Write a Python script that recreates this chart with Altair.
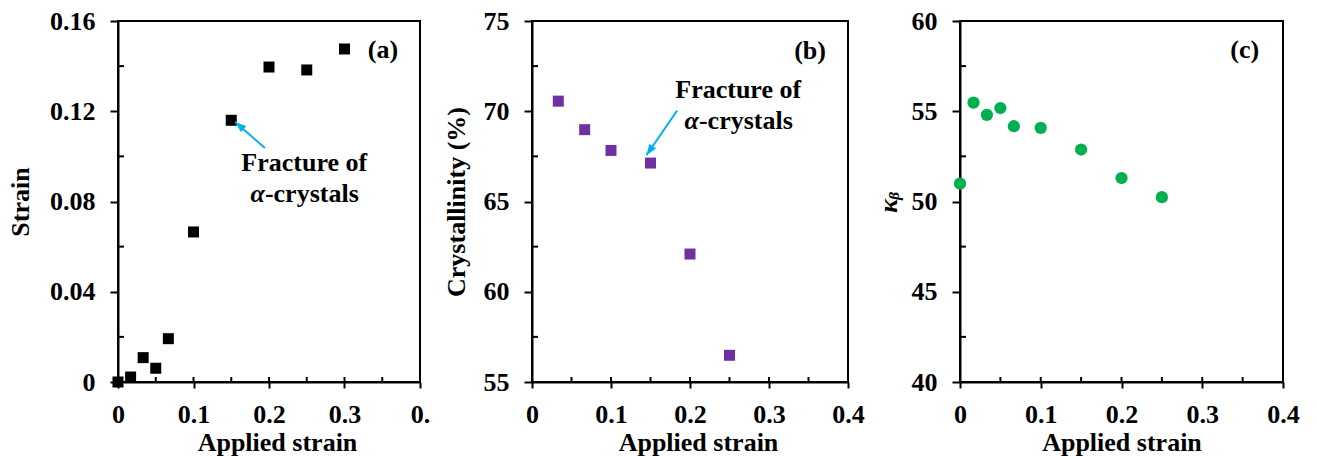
import altair as alt
import pandas as pd

FONT = "Liberation Serif"
FS = 26

# ---------------- data ----------------
a_x = [0, 0.0167, 0.0333, 0.05, 0.0667, 0.1, 0.15, 0.2, 0.25, 0.3]
a_y = [0.0, 0.0022, 0.0108, 0.0061, 0.0192, 0.0665, 0.116, 0.1396, 0.1383, 0.1476]

b_x = [0.0333, 0.0667, 0.1, 0.15, 0.2, 0.25]
b_y = [70.56, 68.98, 67.83, 67.13, 62.09, 56.48]

c_x = [0, 0.0167, 0.0333, 0.05, 0.0667, 0.1, 0.15, 0.2, 0.25]
c_y = [50.99, 55.48, 54.80, 55.18, 54.17, 54.08, 52.88, 51.30, 50.24]

x_ticks = [0, 0.1, 0.2, 0.3, 0.4]
x_minor = [0.05, 0.1, 0.15, 0.2, 0.25, 0.3, 0.35]

a_yticks = [0, 0.04, 0.08, 0.12, 0.16]
a_yminor = [0.02, 0.06, 0.10, 0.14]
b_yticks = [55, 60, 65, 70, 75]
b_yminor = [57.5, 62.5, 67.5, 72.5]
c_yticks = [40, 45, 50, 55, 60]
c_yminor = [42.5, 47.5, 52.5, 57.5]

# annotations (data coordinates)
a_label = {"x": 0.351, "y": 0.147, "text": "(a)"}
b_label = {"x": 0.352, "y": 73.33, "text": "(b)"}
c_label = {"x": 0.3525, "y": 58.38, "text": "(c)"}

a_note = {"line1": (0.2467, 0.0971), "line2": (0.1946, 0.0833),
          "tail": (0.1946, 0.1037), "tip": (0.1552, 0.1152), "angle": 310}
b_note = {"line1": (0.261, 71.2), "line2": (0.2113, 69.44),
          "tail": (0.1838, 70.04), "tip": (0.1449, 67.56), "angle": 214.5}

ARROW = "#00B0F0"
HEAD = "M0,0 L0.75,2 L-0.75,2 Z"
H = 361


def panel(xs, ys, color, shape, size, ydom, yticks, yminor, ytitle, ytp,
          width, label, note=None, xlabelexpr=None, xtitle_shift=0,
          ytitle_style="normal"):
    xkw = dict(values=x_ticks, format="~g", title="Applied strain",
               tickSize=6, labelPadding=13, titlePadding=2,
               labelFlush=False, titleX=width / 2 + xtitle_shift)
    if xlabelexpr:
        xkw["labelExpr"] = xlabelexpr
    xscale = alt.Scale(domain=[0, 0.4], nice=False, zero=False)
    yscale = alt.Scale(domain=ydom, nice=False, zero=False)
    X = alt.X("x:Q", scale=xscale, title="Applied strain",
              axis=alt.Axis(**xkw))
    Y = alt.Y("y:Q", scale=yscale, title=ytitle,
              axis=alt.Axis(values=yticks, format="~g", title=ytitle,
                            tickSize=8, labelPadding=15, titlePadding=ytp,
                            labelFlush=False, titleFontStyle=ytitle_style))
    Xn = alt.X("x:Q", scale=xscale, title="Applied strain")
    Yn = alt.Y("y:Q", scale=yscale, title=ytitle)

    pts = alt.Chart(pd.DataFrame({"x": xs, "y": ys})).mark_point(
        shape=shape, filled=True, size=size, color=color, opacity=1,
        strokeWidth=0).encode(x=X, y=Y)

    xm = alt.Chart(pd.DataFrame({"x": x_minor})).mark_rule(
        color="black", strokeWidth=2).encode(
        x=Xn, y=alt.value(H), y2=alt.value(H - 5))
    ym = alt.Chart(pd.DataFrame({"y": yminor})).mark_rule(
        color="black", strokeWidth=2).encode(
        y=Yn, x=alt.value(0), x2=alt.value(6))

    lab = alt.Chart(pd.DataFrame([label])).mark_text(
        font=FONT, fontSize=FS, fontWeight="bold", color="black",
        align="center", baseline="middle").encode(x=Xn, y=Yn, text="text:N")

    layers = [pts, xm, ym, lab]
    if note is not None:
        l1 = pd.DataFrame({"x": [note["line1"][0]], "y": [note["line1"][1]],
                           "text": ["Fracture of"]})
        l2a = pd.DataFrame({"x": [note["line2"][0]], "y": [note["line2"][1]],
                            "text": ["α"]})
        l2b = pd.DataFrame({"x": [note["line2"][0]], "y": [note["line2"][1]],
                            "text": ["-crystals"]})
        tstyle = dict(font=FONT, fontSize=FS, fontWeight="bold",
                      color="black", baseline="middle")
        layers.append(alt.Chart(l1).mark_text(align="center", **tstyle)
                      .encode(x=Xn, y=Yn, text="text:N"))
        layers.append(alt.Chart(l2a).mark_text(align="right",
                                               fontStyle="italic", **tstyle)
                      .encode(x=Xn, y=Yn, text="text:N"))
        layers.append(alt.Chart(l2b).mark_text(align="left", **tstyle)
                      .encode(x=Xn, y=Yn, text="text:N"))
        seg = pd.DataFrame({"x": [note["tail"][0]], "y": [note["tail"][1]],
                            "x2": [note["tip"][0]], "y2": [note["tip"][1]]})
        layers.append(alt.Chart(seg).mark_rule(color=ARROW, strokeWidth=2)
                      .encode(x=Xn, y=Yn, x2="x2:Q", y2="y2:Q"))
        tip = pd.DataFrame({"x": [note["tip"][0]], "y": [note["tip"][1]]})
        layers.append(alt.Chart(tip).mark_point(
            shape=HEAD, filled=True, size=121, color=ARROW, opacity=1,
            strokeWidth=0, angle=note["angle"]).encode(x=Xn, y=Yn))

    return alt.layer(*layers).properties(width=width, height=H)


pa = panel(a_x, a_y, "black", "square", 121, [0, 0.16], a_yticks, a_yminor,
           "Strain", 16, 302, a_label, a_note,
           xlabelexpr="datum.value >= 0.39 ? '0.\u00a0\u00a0' : datum.label",
           xtitle_shift=8)
pb = panel(b_x, b_y, "#7030A0", "square", 121, [55, 75], b_yticks, b_yminor,
           "Crystallinity (%)", 14, 316, b_label, b_note, xtitle_shift=8)
pc = panel(c_x, c_y, "#00B050", "circle", 150, [40, 60], c_yticks, c_yminor,
           "κᵦ", 10, 323, c_label, ytitle_style="italic")

chart = alt.hconcat(pa, pb, pc, spacing=112, bounds="flush").properties(
    padding={"left": 6, "top": 7, "right": 5, "bottom": 5},
    background="white"
).configure_view(stroke="black", strokeWidth=2).configure_axis(
    labelFont=FONT, labelFontSize=FS, labelFontWeight="bold",
    labelColor="black", titleFont=FONT, titleFontSize=FS,
    titleFontWeight="bold", titleColor="black", domainColor="black",
    domainWidth=2, tickColor="black", tickWidth=2, grid=False
)

chart.save("out.html", embed_options={"renderer": "svg", "actions": False})
